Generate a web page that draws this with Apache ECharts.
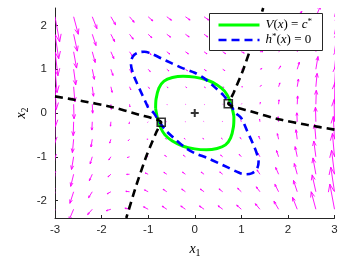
<!DOCTYPE html>
<html><head><meta charset="utf-8">
<script src="https://cdn.jsdelivr.net/npm/echarts@6/dist/echarts.min.js"></script>
<style>html,body{margin:0;padding:0;background:#fff}#c{width:341px;height:261px}</style>
</head><body><div id="c"></div>
<script>
// ---- data ----
const yTickValues = [-2, -1, 0, 1, 2];
const x1Grid = [-3, -2.6, -2.2, -1.8, -1.4, -1, -0.6, -0.2, 0.2, 0.6, 1, 1.4, 1.8, 2.2, 2.6, 3];
const x2Grid = [2.2, 1.8, 1.4, 1.0, 0.6, 0.2, -0.2, -0.6, -1.0, -1.4, -1.8, -2.2];
// arrow components (already scaled, data units): horizontal part per row
const uByRow = [0.10, 0.08, 0.063, 0.045, 0.027, 0.009, -0.009, -0.027, -0.045, -0.063, -0.08, -0.10];
// vertical part: contribution per column + contribution per row
const vByCol = [-0.50, -0.325, -0.197, -0.108, -0.051, -0.019, -0.004, 0, 0, 0.004, 0.019, 0.051, 0.108, 0.197, 0.325, 0.50];
const vByRow = [-0.075, -0.061, -0.048, -0.034, -0.02, -0.007, 0.007, 0.02, 0.034, 0.048, 0.061, 0.075];

const greenCurve = [[-0.84,0.10],[-0.83,0.32],[-0.77,0.57],[-0.66,0.73],[-0.48,0.81],[-0.25,0.84],[0.0,0.82],[0.25,0.76],[0.48,0.64],[0.64,0.50],[0.74,0.32],[0.80,0.12],
 [0.84,-0.10],[0.83,-0.32],[0.77,-0.57],[0.66,-0.73],[0.48,-0.81],[0.25,-0.84],[0.0,-0.82],[-0.25,-0.76],[-0.48,-0.64],[-0.64,-0.50],[-0.74,-0.32],[-0.80,-0.12],[-0.84,0.10]];
const blueCurve = [[-1.00,0.12],[-1.12,0.40],[-1.24,0.68],[-1.33,0.92],[-1.37,1.12],[-1.33,1.29],[-1.22,1.38],[-1.08,1.40],[-0.94,1.36],[-0.72,1.25],[-0.50,1.14],[-0.25,1.02],[0.0,0.92],[0.22,0.78],[0.44,0.58],[0.62,0.40],[0.76,0.20],[0.88,0.00],
 [1.00,-0.12],[1.12,-0.40],[1.24,-0.68],[1.33,-0.92],[1.37,-1.12],[1.33,-1.29],[1.22,-1.38],[1.08,-1.40],[0.94,-1.36],[0.72,-1.25],[0.50,-1.14],[0.25,-1.02],[0.0,-0.92],[-0.22,-0.78],[-0.44,-0.58],[-0.62,-0.40],[-0.76,-0.20],[-0.88,0.00],[-1.00,0.12]];
const blackLeft = [[-3,0.38],[-2.4,0.27],[-1.83,0.15],[-1.19,-0.04],[-0.72,-0.21],[-0.83,-0.45],[-1.04,-0.99],[-1.26,-1.67],[-1.47,-2.4]];
const blackRight = [[3,-0.38],[2.4,-0.27],[1.83,-0.15],[1.19,0.04],[0.72,0.21],[0.83,0.45],[1.04,0.99],[1.26,1.67],[1.47,2.4]];
const squarePoints = [[-0.72,-0.21],[0.72,0.21]];
const originPoint = [[0,0]];

// ---- build ----
const quiverData = [];
x2Grid.forEach((y, i) => {
  x1Grid.forEach((x, j) => {
    quiverData.push([x, y, uByRow[i], vByCol[j] + vByRow[i]]);
  });
});

const axisColor = '#262626';
const chart = echarts.init(document.getElementById('c'), null, {renderer: 'canvas'});

function renderArrow(params, api) {
  const x = api.value(0), y = api.value(1), u = api.value(2), v = api.value(3);
  const p0 = api.coord([x, y]);
  const p1 = api.coord([x + u, y + v]);
  const dx = p1[0] - p0[0], dy = p1[1] - p0[1];
  const a = 0.3, b = 0.38;
  const h1 = [p1[0] - a * (dx + b * dy), p1[1] - a * (dy - b * dx)];
  const h2 = [p1[0] - a * (dx - b * dy), p1[1] - a * (dy + b * dx)];
  const st = {stroke: '#ff00ff', lineWidth: 0.9, fill: null};
  return {
    type: 'group',
    children: [
      {type: 'polyline', shape: {points: [p0, p1]}, style: st},
      {type: 'polyline', shape: {points: [h1, p1, h2]}, style: st}
    ]
  };
}

const richMath = {
  i: {fontFamily: 'Liberation Serif', fontStyle: 'italic', fontSize: 13, color: '#000', lineHeight: 16},
  n: {fontFamily: 'Liberation Serif', fontSize: 13, color: '#000', lineHeight: 16},
  s: {fontFamily: 'Liberation Serif', fontSize: 9, color: '#000', verticalAlign: 'top', lineHeight: 16}
};

chart.setOption({
  animation: false,
  backgroundColor: '#fff',
  grid: {left: 55, right: 6.5, top: 8, bottom: 43, outerBoundsMode: 'none'},
  xAxis: {
    type: 'value', min: -3, max: 3, interval: 1,
    axisLine: {show: true, onZero: false, lineStyle: {color: axisColor, width: 1}},
    axisTick: {show: true, inside: true, length: 3, lineStyle: {color: axisColor}},
    axisLabel: {fontFamily: 'Liberation Sans', fontSize: 11.5, color: axisColor, margin: 6},
    splitLine: {show: false}
  },
  yAxis: {
    type: 'value', min: -2.4, max: 2.4,
    axisLine: {show: true, onZero: false, lineStyle: {color: axisColor, width: 1}},
    axisTick: {show: true, inside: true, length: 3, lineStyle: {color: axisColor}, customValues: yTickValues},
    axisLabel: {fontFamily: 'Liberation Sans', fontSize: 11.5, color: axisColor, margin: 8, customValues: yTickValues},
    splitLine: {show: false}
  },
  series: [
    {type: 'custom', data: quiverData, renderItem: renderArrow, clip: true, silent: true, z: 1},
    {type: 'line', data: greenCurve, symbol: 'none', smooth: 0.3, clip: true,
     lineStyle: {color: '#00ff00', width: 3}, z: 2},
    {type: 'line', data: blueCurve, symbol: 'none', smooth: 0.3, clip: true,
     lineStyle: {color: '#0000ff', width: 2.6, type: [8, 5], cap: 'butt'}, z: 3},
    {type: 'line', data: blackLeft, symbol: 'none', smooth: 0.2, clip: true,
     lineStyle: {color: '#000', width: 2.6, type: [8, 5], cap: 'butt'}, z: 4},
    {type: 'line', data: blackRight, symbol: 'none', smooth: 0.2, clip: true,
     lineStyle: {color: '#000', width: 2.6, type: [8, 5], cap: 'butt'}, z: 4},
    {type: 'scatter', data: squarePoints, symbol: 'rect', symbolSize: 8,
     itemStyle: {color: 'rgba(0,0,0,0)', borderColor: '#000', borderWidth: 1.6}, z: 5},
    {type: 'scatter', data: originPoint, symbol: 'path://M3,0H5V8H3Z M0,3H8V5H0Z', symbolSize: 8,
     itemStyle: {color: '#000'}, z: 5}
  ],
  graphic: [
    {type: 'group', left: 209, top: 13, z: 100, zlevel: 1, children: [
      {type: 'rect', z: 100, zlevel: 1, shape: {x: 0, y: 0, width: 113, height: 37}, style: {fill: '#fff', stroke: axisColor, lineWidth: 1}},
      {type: 'line', z: 101, zlevel: 1, shape: {x1: 9, y1: 11.5, x2: 50, y2: 11.5}, style: {stroke: '#00ff00', lineWidth: 3}},
      {type: 'line', z: 101, zlevel: 1, shape: {x1: 9, y1: 26.5, x2: 50, y2: 26.5}, style: {stroke: '#0000ff', lineWidth: 2.6, lineDash: [8, 5]}},
      {type: 'text', z: 101, zlevel: 1, x: 56, y: 11.5, style: {text: '{i|V}{n|(}{i|x}{n|) = }{i|c}{s|*}', rich: richMath, verticalAlign: 'middle', align: 'left'}},
      {type: 'text', z: 101, zlevel: 1, x: 56, y: 26.5, style: {text: '{i|h}{s|*}{n|(}{i|x}{n|) = 0}', rich: richMath, verticalAlign: 'middle', align: 'left'}}
    ]},
    {type: 'text', x: 195, y: 249, z: 100, style: {
      text: '{i|x}{b|1}', align: 'center', verticalAlign: 'middle',
      rich: {i: {fontFamily: 'Liberation Serif', fontStyle: 'italic', fontSize: 14, color: '#262626', lineHeight: 18},
             b: {fontFamily: 'Liberation Serif', fontSize: 10, color: '#262626', verticalAlign: 'bottom', lineHeight: 18}}}},
    {type: 'text', x: 21, y: 113, rotation: Math.PI / 2, z: 100, style: {
      text: '{i|x}{b|2}', align: 'center', verticalAlign: 'middle',
      rich: {i: {fontFamily: 'Liberation Serif', fontStyle: 'italic', fontSize: 14, color: '#262626', lineHeight: 18},
             b: {fontFamily: 'Liberation Serif', fontSize: 10, color: '#262626', verticalAlign: 'bottom', lineHeight: 18}}}}
  ]
});
</script>
</body></html>
